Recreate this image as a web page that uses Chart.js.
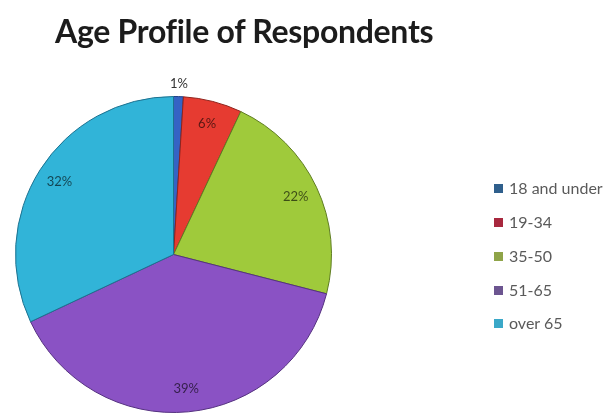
<!DOCTYPE html>
<html>
<head>
<meta charset="utf-8">
<script src="https://cdn.jsdelivr.net/npm/chart.js@4.4.1/dist/chart.umd.min.js"></script>
<style>
  html, body { margin: 0; padding: 0; background: #ffffff; }
  #wrap { position: relative; width: 609px; height: 414px; overflow: hidden; }
  #chart { position: absolute; left: 0; top: 0; }
  #title {
    position: absolute; left: 55px; top: 11px; margin: 0;
    font-family: Lato, "Open Sans", sans-serif; font-weight: 700; font-size: 32px;
    color: #1c1c1c; white-space: nowrap; letter-spacing: -0.3px;
  }
  #legend { position: absolute; left: 494px; top: 0; font-family: Lato, "Open Sans", sans-serif; }
  .item { position: absolute; left: 0; white-space: nowrap; font-size: 16px; color: #5a5a5a; line-height: 18px; }
  .sw { display: inline-block; width: 9px; height: 9px; margin-right: 6px; vertical-align: 1px; }
</style>
</head>
<body>
<div id="wrap">
  <canvas id="chart" width="609" height="414"></canvas>
  <div id="title">Age Profile of Respondents</div>
  <div id="legend"></div>
</div>
<script>
// Age bands and their share of respondents (percent)
const categories = ['18 and under', '19-34', '35-50', '51-65', 'over 65'];
const shares = [1, 6, 22, 39, 32];
const sliceColors = ['#3563c4', '#e63b31', '#9fca3b', '#8a52c4', '#31b4d8'];
const edgeColors = ['#1f3f85', '#8f231c', '#5f7d22', '#553180', '#1d7290'];
const legendColors = ['#2f5f8c', '#a8283e', '#8fa448', '#6c5590', '#3aa8c8'];

// Percent labels drawn on top of each slice
const sliceLabels = {
  id: 'sliceLabels',
  afterDatasetsDraw(chart) {
    const ctx = chart.ctx;
    const meta = chart.getDatasetMeta(0);
    ctx.save();
    ctx.font = '13px Lato, "Open Sans", sans-serif';
    ctx.textAlign = 'center';
    ctx.textBaseline = 'middle';
    meta.data.forEach((arc, i) => {
      const v = chart.data.datasets[0].data[i];
      const mid = (arc.startAngle + arc.endAngle) / 2;
      const r = arc.outerRadius * (v < 3 ? 1.08 : 0.855);
      const x = arc.x + Math.cos(mid) * r;
      const y = arc.y + Math.sin(mid) * r;
      ctx.fillStyle = v < 3 ? '#333333' : 'rgba(0,0,0,0.62)';
      ctx.fillText(v + '%', x, y);
    });
    ctx.restore();
  }
};

new Chart(document.getElementById('chart'), {
  type: 'pie',
  data: {
    labels: categories,
    datasets: [{
      data: shares,
      backgroundColor: sliceColors,
      borderColor: edgeColors,
      borderWidth: 1
    }]
  },
  options: {
    responsive: false,
    animation: false,
    layout: { padding: { left: 15, top: 96, right: 277, bottom: 1 } },
    plugins: {
      legend: { display: false },
      title: { display: false },
      tooltip: { enabled: false }
    }
  },
  plugins: [sliceLabels]
});

// Legend entries down the right-hand side
const legend = document.getElementById('legend');
const rowTops = [179, 213, 247, 281, 314];
categories.forEach((name, i) => {
  const row = document.createElement('div');
  row.className = 'item';
  row.style.top = rowTops[i] + 'px';
  const sw = document.createElement('span');
  sw.className = 'sw';
  sw.style.background = legendColors[i];
  row.appendChild(sw);
  row.appendChild(document.createTextNode(name));
  legend.appendChild(row);
});
</script>
</body>
</html>
